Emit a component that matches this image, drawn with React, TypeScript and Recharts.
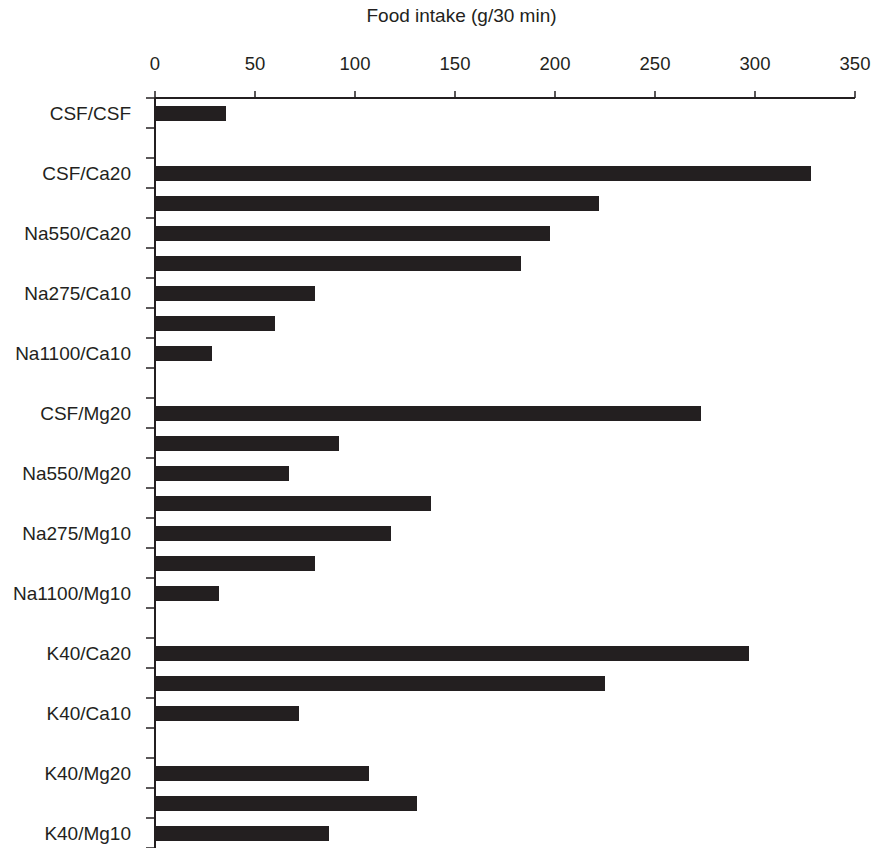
import { Bar, BarChart, Label, XAxis, YAxis } from "recharts";

// one row per band; unlabeled rows sit between the labeled ones
const rowLabels = [
  "CSF/CSF", "",
  "CSF/Ca20", "",
  "Na550/Ca20", "",
  "Na275/Ca10", "",
  "Na1100/Ca10", "",
  "CSF/Mg20", "",
  "Na550/Mg20", "",
  "Na275/Mg10", "",
  "Na1100/Mg10", "",
  "K40/Ca20", "",
  "K40/Ca10", "",
  "K40/Mg20", "",
  "K40/Mg10",
];

const intake: (number | null)[] = [
  35.5, null,
  328, 222,
  197.5, 183,
  80, 60,
  28.5, null,
  273, 92,
  67, 138,
  118, 80,
  32, null,
  297, 225,
  72, null,
  107, 131,
  87,
];

const xTicks = [0, 50, 100, 150, 200, 250, 300, 350];

const title = "Food intake (g/30 min)";

const data = rowLabels.map((label, i) => ({ row: String(i), label, intake: intake[i] }));

const INK = "#231f20";
const FONT = '"Liberation Sans", Arial, Helvetica, sans-serif';
const PLOT_H = 750;
const HALF_BAND = PLOT_H / rowLabels.length / 2;

function RowTick(props: any) {
  const { x, y, payload } = props;
  const i = Number(payload.value);
  const label = rowLabels[i];
  return (
    <g>
      {i === 0 && (
        <line x1={x - 9} x2={x} y1={y - HALF_BAND} y2={y - HALF_BAND} stroke={INK} strokeWidth={1.5} />
      )}
      <line x1={x - 9} x2={x} y1={y + HALF_BAND} y2={y + HALF_BAND} stroke={INK} strokeWidth={1.5} />
      {label && (
        <text x={x - 24} y={y} dy="0.36em" textAnchor="end" fontSize={19} fill={INK} fontFamily={FONT}>
          {label}
        </text>
      )}
    </g>
  );
}

function TitleLabel(props: any) {
  const { x, width } = props.viewBox;
  return (
    <text x={x + width / 2 - 43.5} y={22} textAnchor="middle" fontSize={19} fill={INK} fontFamily={FONT}>
      {title}
    </text>
  );
}

export default function App() {
  return (
    <div style={{ position: "absolute", left: 0, top: 0, background: "#fff" }}>
      <BarChart
        width={872}
        height={848}
        data={data}
        layout="vertical"
        margin={{ top: 0, right: 17, bottom: 0, left: 0 }}
      >
        <XAxis
          type="number"
          orientation="top"
          domain={[0, 350]}
          ticks={xTicks}
          interval={0}
          height={98}
          tickSize={7}
          tickMargin={21}
          axisLine={{ stroke: INK, strokeWidth: 2 }}
          tickLine={{ stroke: INK, strokeWidth: 1.5 }}
          tick={{ fill: INK, fontSize: 18.5, fontFamily: FONT }}
        >
          <Label content={TitleLabel} />
        </XAxis>
        <YAxis
          type="category"
          dataKey="row"
          width={155}
          interval={0}
          tickSize={0}
          tickMargin={0}
          tickLine={false}
          axisLine={{ stroke: INK, strokeWidth: 2 }}
          tick={<RowTick />}
        />
        <Bar dataKey="intake" fill={INK} barSize={15} isAnimationActive={false} />
      </BarChart>
    </div>
  );
}
